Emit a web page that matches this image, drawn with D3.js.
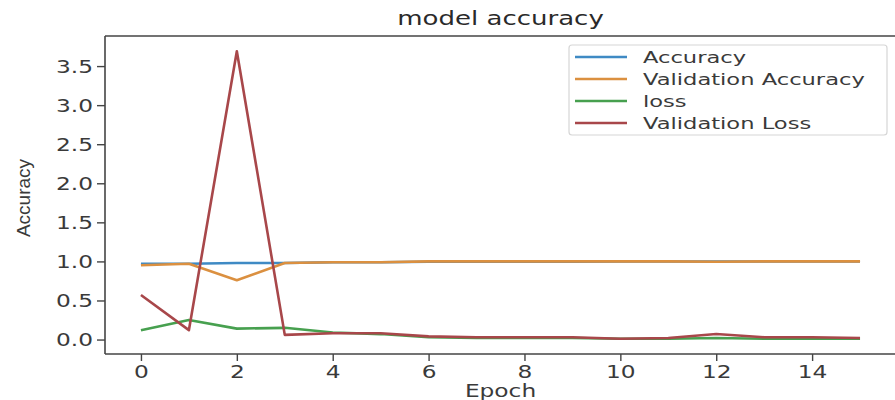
<!DOCTYPE html>
<html><head><meta charset="utf-8">
<script src="https://cdn.jsdelivr.net/npm/d3@7"></script>
<style>html,body{margin:0;padding:0;background:#fff;overflow:hidden}</style>
</head><body><svg id="c" width="895" height="400"></svg>
<script>
const epochs = [0,1,2,3,4,5,6,7,8,9,10,11,12,13,14,15];
const accuracy = [0.97,0.97,0.98,0.98,0.99,0.99,0.995,0.995,0.997,0.997,0.998,0.998,0.998,0.999,0.999,0.999];
const valAccuracy = [0.95,0.97,0.76,0.98,0.99,0.99,1.0,1.0,1.0,1.0,1.0,1.0,0.995,1.0,1.0,1.0];
const loss = [0.12,0.25,0.14,0.15,0.09,0.07,0.03,0.02,0.02,0.02,0.01,0.01,0.02,0.01,0.01,0.01];
const valLoss = [0.57,0.12,3.69,0.06,0.08,0.08,0.04,0.03,0.03,0.03,0.01,0.02,0.07,0.03,0.03,0.02];
const seriesNames = ["Accuracy","Validation Accuracy","loss","Validation Loss"];
const seriesColors = ["#3f8ac4","#db9040","#47a04f","#a8474a"];
const xTicks = [0,2,4,6,8,10,12,14];
const yTicks = [0.0,0.5,1.0,1.5,2.0,2.5,3.0,3.5];
const title = "model accuracy", xLabel = "Epoch", yLabel = "Accuracy";

const SX = 1.37;
const svg = d3.select("#c");
const M = {left:105, top:36, right:896, bottom:354};
const x = d3.scaleLinear().domain([-0.75, 15.75]).range([M.left, M.right]);
const y = d3.scaleLinear().domain([-0.185, 3.885]).range([M.bottom, M.top]);
const txtColor = "#3a3a3a";
const font = "DejaVu Sans, sans-serif";

svg.append("defs").append("clipPath").attr("id","clip")
  .append("rect").attr("x",M.left).attr("y",M.top).attr("width",M.right-M.left).attr("height",M.bottom-M.top);

const series = [accuracy, valAccuracy, loss, valLoss];
const line = d3.line().x((d,i)=>x(epochs[i])).y(d=>y(d));
const plot = svg.append("g").attr("clip-path","url(#clip)");
series.forEach((s,k)=>{
  plot.append("path").datum(s).attr("d",line).attr("fill","none")
    .attr("stroke",seriesColors[k]).attr("stroke-width",2.6).attr("stroke-linejoin","round");
});

// axes
const ax = svg.append("g").attr("transform",`translate(0,${M.bottom})`)
  .call(d3.axisBottom(x).tickValues(xTicks).tickSize(7).tickSizeOuter(0).tickFormat(d3.format("d")));
const ay = svg.append("g").attr("transform",`translate(${M.left},0)`)
  .call(d3.axisLeft(y).tickValues(yTicks).tickSize(8).tickSizeOuter(0).tickFormat(d3.format(".1f")));
[ax,ay].forEach(a=>{
  a.select(".domain").remove();
  a.selectAll(".tick line").attr("stroke","#444").attr("stroke-width",1.4);
  a.selectAll(".tick text").attr("fill",txtColor).attr("font-family",font).attr("font-size",17);
});
ax.selectAll(".tick text").attr("y",0).attr("dy",0).attr("transform",`translate(0,24) scale(${SX},1)`);
ay.selectAll(".tick text").attr("x",0).attr("dy","0.36em").attr("transform",`translate(-12,0) scale(${SX},1)`);

// spines
svg.append("line").attr("x1",M.left).attr("x2",M.left).attr("y1",M.top).attr("y2",M.bottom).attr("stroke","#444").attr("stroke-width",1.6);
svg.append("line").attr("x1",M.left).attr("x2",M.right).attr("y1",M.bottom).attr("y2",M.bottom).attr("stroke","#444").attr("stroke-width",1.6);
svg.append("line").attr("x1",M.left).attr("x2",M.right).attr("y1",M.top).attr("y2",M.top).attr("stroke","#444").attr("stroke-width",1.6);

// title & labels
svg.append("g").attr("transform",`translate(${(M.left+M.right)/2},25) scale(${SX},1)`)
  .append("text").attr("text-anchor","middle").attr("font-family",font).attr("font-size",19).attr("fill","#2a2a2a").text(title);
svg.append("g").attr("transform",`translate(${(M.left+M.right)/2},397) scale(${SX},1)`)
  .append("text").attr("text-anchor","middle").attr("font-family",font).attr("font-size",17).attr("fill",txtColor).text(xLabel);
svg.append("text").attr("transform",`translate(30,${(M.top+M.bottom)/2+3}) rotate(-90)`)
  .attr("text-anchor","middle").attr("font-family","Liberation Sans Narrow, Liberation Sans, sans-serif")
  .attr("font-size",19).attr("fill",txtColor).text(yLabel);

// legend
const lg = svg.append("g");
lg.append("rect").attr("x",569).attr("y",45).attr("width",318).attr("height",90).attr("rx",3)
  .attr("fill","#fff").attr("fill-opacity",0.85).attr("stroke","#d6d6d6").attr("stroke-width",1.2);
const rowY = d3.scalePoint().domain(seriesNames).range([57,123]);
seriesNames.forEach((n,k)=>{
  const yy = rowY(n);
  lg.append("line").attr("x1",575).attr("x2",627).attr("y1",yy).attr("y2",yy).attr("stroke",seriesColors[k]).attr("stroke-width",2.6);
  lg.append("g").attr("transform",`translate(643,${yy}) scale(${SX},1)`)
    .append("text").attr("dy","0.36em").attr("font-family",font).attr("font-size",16.5).attr("fill",txtColor).text(n);
});
</script></body></html>
